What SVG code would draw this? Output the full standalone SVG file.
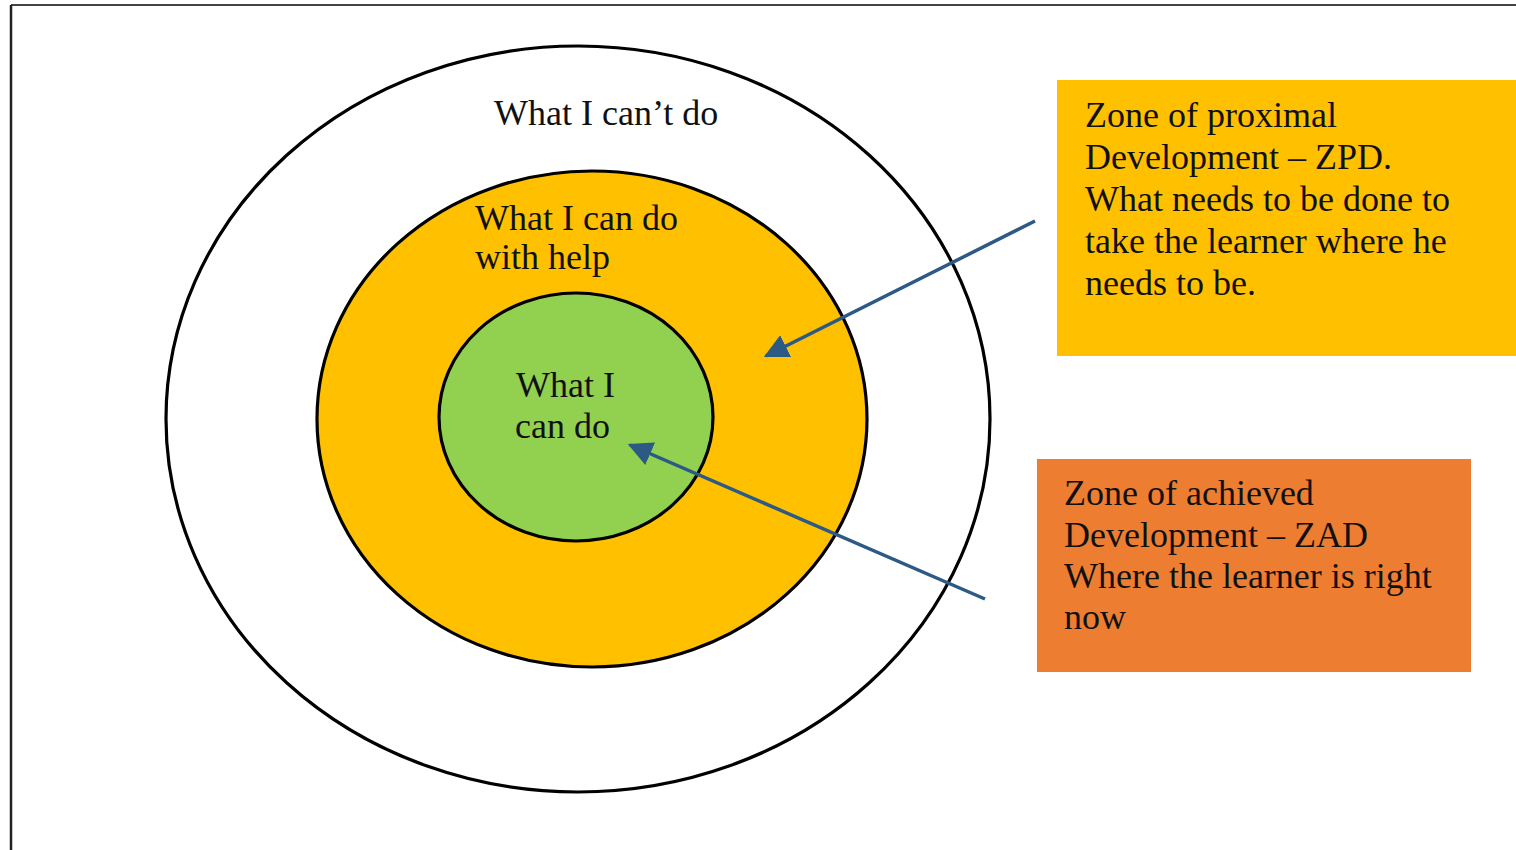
<svg xmlns="http://www.w3.org/2000/svg" width="1516" height="850" viewBox="0 0 1516 850">
<defs>
<style>
.t{font-family:"Liberation Serif","Times New Roman",serif;font-size:36px;fill:#111;}
.ring{stroke:#000;stroke-width:3.2;}
.conn{stroke:#2C5A85;stroke-width:3.5;fill:none;}
</style>
<marker id="ah" viewBox="0 0 10 10" refX="9" refY="5" markerWidth="7" markerHeight="7" orient="auto" markerUnits="strokeWidth">
<path d="M0,0 L10,5 L0,10 z" fill="#2C5A85"/>
</marker>
</defs>
<rect width="1516" height="850" fill="#fff"/>
<g id="frame">
<line x1="11" y1="5" x2="1516" y2="5" stroke="#444" stroke-width="2"/>
<line x1="11" y1="5" x2="11" y2="850" stroke="#222" stroke-width="2.5"/>
</g>
<g id="outer">
<ellipse cx="578" cy="419" rx="412" ry="373" fill="#fff" class="ring"/>
<text class="t" x="494" y="125">What I can’t do</text>
</g>
<g id="middle">
<ellipse cx="592" cy="419" rx="275" ry="248" fill="#FFC000" class="ring"/>
<text class="t" x="475" y="230">What I can do</text>
<text class="t" x="475" y="269">with help</text>
</g>
<g id="inner">
<ellipse cx="576" cy="417" rx="137" ry="124" fill="#92D050" class="ring"/>
<text class="t" x="516" y="397">What I</text>
<text class="t" x="515" y="438">can do</text>
</g>
<g id="zpd">
<rect x="1057" y="80" width="459" height="276" fill="#FFC000"/>
<text class="t" x="1085" y="127">Zone of proximal</text>
<text class="t" x="1085" y="169">Development – ZPD.</text>
<text class="t" x="1085" y="211">What needs to be done to</text>
<text class="t" x="1085" y="253">take the learner where he</text>
<text class="t" x="1085" y="295">needs to be.</text>
</g>
<g id="zad">
<rect x="1037" y="459" width="434" height="213" fill="#ED7D31"/>
<text class="t" x="1064" y="505">Zone of achieved</text>
<text class="t" x="1064" y="547">Development – ZAD</text>
<text class="t" x="1064" y="588">Where the learner is right</text>
<text class="t" x="1064" y="629">now</text>
</g>
<g id="connectors">
<line class="conn" x1="1035" y1="221" x2="766" y2="356" marker-end="url(#ah)"/>
<line class="conn" x1="985" y1="599" x2="630" y2="445" marker-end="url(#ah)"/>
</g>
</svg>
